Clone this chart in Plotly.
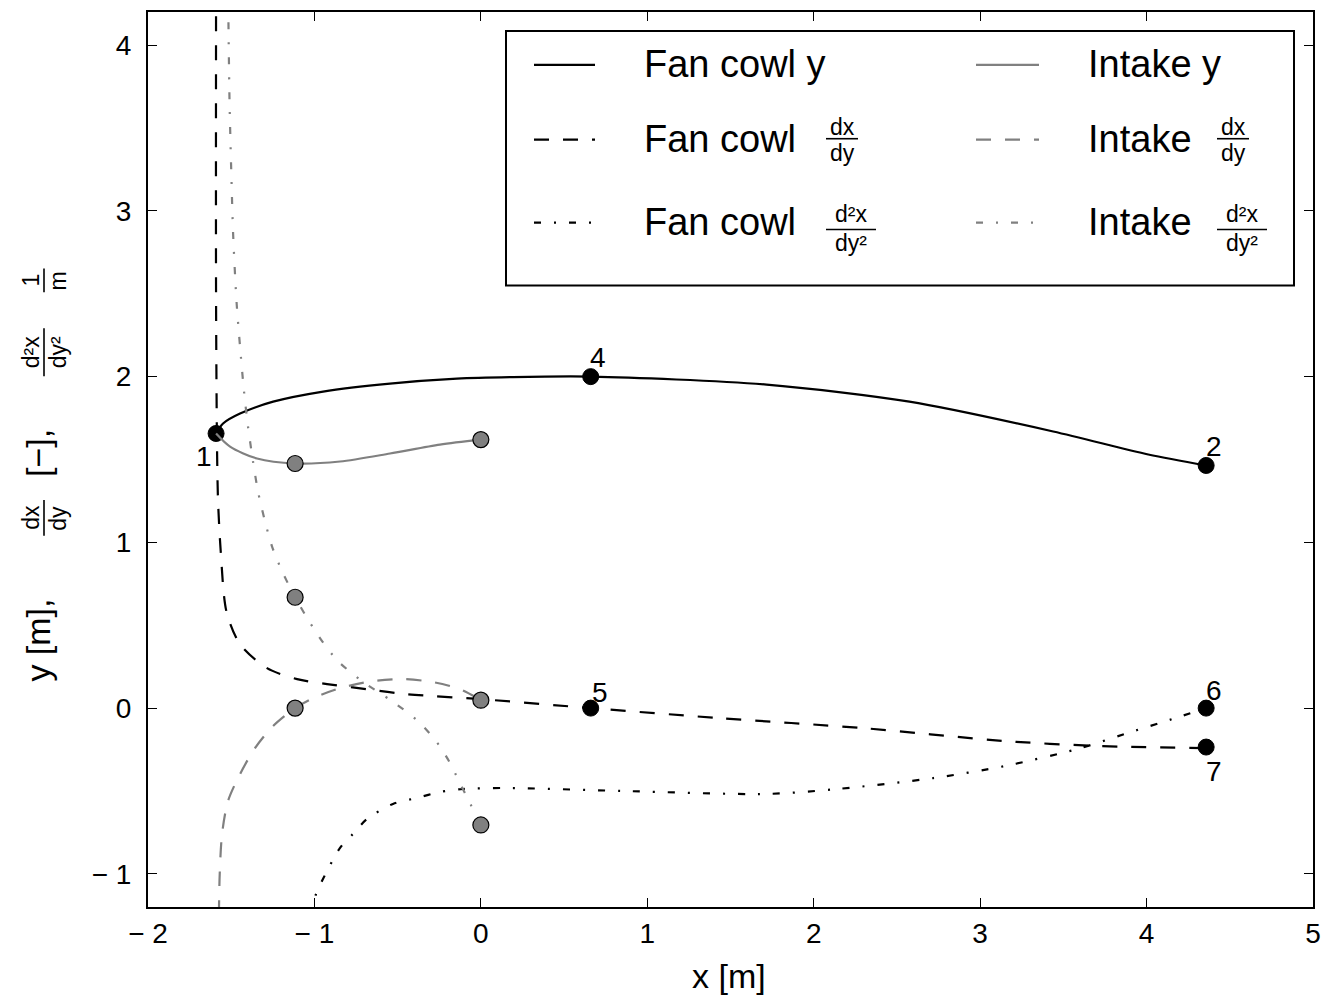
import plotly.graph_objects as go

# ---------------- data ----------------
x_ticks = [-2, -1, 0, 1, 2, 3, 4, 5]
x_tick_text = ["− 2", "− 1", "0", "1", "2", "3", "4", "5"]
y_ticks = [-1, 0, 1, 2, 3, 4]
y_tick_text = ["− 1", "0", "1", "2", "3", "4"]

fan_y_x = [-1.591, -1.549, -1.447, -1.248, -0.948, -0.546, -0.144, 0.174, 0.660, 1.717, 2.575, 3.439, 4.010, 4.358]
fan_y_y = [1.657, 1.717, 1.777, 1.849, 1.910, 1.958, 1.988, 1.997, 2.000, 1.952, 1.849, 1.669, 1.530, 1.464]

fan_dx_x = [-1.591, -1.591, -1.585, -1.579, -1.563, -1.528, -1.447, -1.285, -1.104, -0.924, -0.684, -0.444, 0.0, 0.660, 1.429, 2.287, 3.151, 3.721, 4.358]
fan_dx_y = [4.35, 2.452, 1.548, 1.247, 0.946, 0.580, 0.386, 0.241, 0.175, 0.145, 0.114, 0.084, 0.054, 0.0, -0.060, -0.120, -0.199, -0.229, -0.241]

fan_d2_x = [-1.010, -0.996, -0.954, -0.846, -0.768, -0.684, -0.528, -0.384, -0.246, -0.108, 0.156, 0.852, 1.717, 2.143, 2.719, 3.151, 3.583, 3.866, 4.154, 4.358]
fan_d2_y = [-1.25, -1.139, -1.042, -0.843, -0.759, -0.669, -0.578, -0.542, -0.506, -0.488, -0.482, -0.500, -0.518, -0.488, -0.422, -0.349, -0.247, -0.157, -0.066, 0.0]

int_y_x = [-1.591, -1.507, -1.345, -1.116, -0.846, -0.546, -0.246, 0.0]
int_y_y = [1.657, 1.578, 1.506, 1.476, 1.488, 1.536, 1.590, 1.620]

int_dx_x = [-1.574, -1.569, -1.555, -1.519, -1.447, -1.357, -1.248, -1.116, -1.008, -0.846, -0.648, -0.468, -0.288, -0.126, 0.0]
int_dx_y = [-1.25, -1.0, -0.759, -0.560, -0.398, -0.241, -0.108, 0.0, 0.060, 0.120, 0.163, 0.175, 0.157, 0.114, 0.048]

int_d2_x = [-1.519, -1.510, -1.498, -1.489, -1.468, -1.447, -1.423, -1.399, -1.369, -1.339, -1.297, -1.255, -1.194,
            -1.116, -1.032, -0.954, -0.858, -0.714, -0.534, -0.378, -0.270, -0.192, -0.132, -0.072, 0.0]
int_d2_y = [4.35, 3.657, 3.175, 2.873, 2.452, 2.181, 1.910, 1.699, 1.488, 1.307, 1.127, 0.976, 0.825,
            0.669, 0.524, 0.404, 0.283, 0.163, 0.042, -0.078, -0.199, -0.319, -0.440, -0.560, -0.705]

fan_pts_x = [-1.591, 0.660, 4.358, 0.660, 4.358, 4.358]
fan_pts_y = [1.657, 2.000, 1.464, 0.0, 0.0, -0.235]
fan_pts_lab = ["1", "4", "2", "5", "6", "7"]

int_pts_x = [-1.116, 0.0, -1.116, -1.116, 0.0, 0.0]
int_pts_y = [1.476, 1.620, 0.669, 0.0, 0.048, -0.705]

legend_rows = [("Fan cowl", "y", None), ("Fan cowl", "dx", "dy"), ("Fan cowl", "d²x", "dy²")]
legend_rows2 = [("Intake", "y", None), ("Intake", "dx", "dy"), ("Intake", "d²x", "dy²")]

# ---------------- styling ----------------
PAGE_W, PAGE_H = 1331, 1000
OFF = 8                      # default page margin around the figure div
W, H = PAGE_W - OFF, PAGE_H - OFF
# plot area in page pixels
L, R, T, B = 148, 1313, 10, 907
FONT = "Liberation Sans, Arial, Helvetica, sans-serif"
BLACK = "#000000"
GRAY = "#808080"
LW = 2.2
DASH = "15px,14px"
DASHDOT = "7px,13px,2px,13px"


def px(x):
    return (x - L) / (R - L)


def py(y):
    return (B - y) / (B - T)


fig = go.Figure()


def line(xs, ys, color, dash):
    fig.add_trace(go.Scatter(x=xs, y=ys, mode="lines",
                             line=dict(color=color, width=LW, dash=dash, shape="spline", smoothing=0.8),
                             showlegend=False, hoverinfo="skip"))


line(fan_y_x, fan_y_y, BLACK, "solid")
line(fan_dx_x, fan_dx_y, BLACK, DASH)
line(fan_d2_x, fan_d2_y, BLACK, DASHDOT)
fig.add_trace(go.Scatter(x=fan_pts_x, y=fan_pts_y, mode="markers",
                         marker=dict(size=16, color=BLACK, line=dict(color=BLACK, width=1)),
                         showlegend=False, hoverinfo="skip"))
line(int_y_x, int_y_y, GRAY, "solid")
line(int_dx_x, int_dx_y, GRAY, DASH)
line(int_d2_x, int_d2_y, GRAY, DASHDOT)
fig.add_trace(go.Scatter(x=int_pts_x, y=int_pts_y, mode="markers",
                         marker=dict(size=16, color=GRAY, line=dict(color=BLACK, width=1.2)),
                         showlegend=False, hoverinfo="skip"))

annotations = []
shapes = []

# point labels
label_shift = {"1": (-12, -23), "4": (7, 19), "2": (8, 19), "5": (9, 16), "6": (8, 18), "7": (8, -24)}
for xv, yv, lab in zip(fan_pts_x, fan_pts_y, fan_pts_lab):
    dx, dy = label_shift[lab]
    annotations.append(dict(x=xv, y=yv, xref="x", yref="y", text=lab, showarrow=False,
                            xshift=dx, yshift=dy, font=dict(family=FONT, size=28, color=BLACK)))


def text(x, y, s, size, xanchor="center", angle=0):
    annotations.append(dict(x=px(x), y=py(y), xref="paper", yref="paper", text=s, showarrow=False,
                            xanchor=xanchor, yanchor="middle", textangle=angle,
                            font=dict(family=FONT, size=size, color=BLACK)))


def hbar(x0, x1, y, w=1.6):
    shapes.append(dict(type="line", xref="paper", yref="paper", x0=px(x0), x1=px(x1), y0=py(y), y1=py(y),
                       line=dict(color=BLACK, width=w)))


def vbar(x, y0, y1, w=1.6):
    shapes.append(dict(type="line", xref="paper", yref="paper", x0=px(x), x1=px(x), y0=py(y0), y1=py(y1),
                       line=dict(color=BLACK, width=w)))


# legend box
shapes.append(dict(type="rect", xref="paper", yref="paper", x0=px(506), x1=px(1294), y0=py(284), y1=py(29),
                   line=dict(color=BLACK, width=2), fillcolor="white", layer="above"))

row_y = [63, 138, 221]
dashes = ["solid", DASH, DASHDOT]
cols = [(534, 595, 642, BLACK, legend_rows), (976, 1039, 1086, GRAY, legend_rows2)]
for (lx0, lx1, tx, color, rows) in cols:
    for ry, dsh, (name, num, den) in zip(row_y, dashes, rows):
        shapes.append(dict(type="line", xref="paper", yref="paper", x0=px(lx0), x1=px(lx1), y0=py(ry), y1=py(ry),
                           line=dict(color=color, width=LW, dash=dsh), layer="above"))
        if den is None:
            text(tx, ry - 1, name + " " + num, 38, xanchor="left")
        else:
            text(tx, ry - 1, name, 38, xanchor="left")
            fx0 = tx + (184 if name == "Fan cowl" else 131)
            wbar = 32 if num == "dx" else 50
            cx = fx0 + wbar / 2
            by = ry - 1 if num == "dx" else ry + 7
            hbar(fx0, fx0 + wbar, by)
            text(cx, by - (12 if num == "dx" else 16), num, 23)
            text(cx, by + 14, den, 23)

# axis titles
text(729, 976, "x [m]", 34)
text(38, 639, "y [m],", 34, angle=-90)
text(38, 452, "[−],", 34, angle=-90)
# rotated fractions (numerator on the left)
for cy, num, den, half in [(517, "dx", "dy", 18), (351, "d²x", "dy²", 24), (279, "1", "m", 12)]:
    vbar(44, cy - half, cy + half)
    text(31, cy, num, 23, angle=-90)
    text(58, cy, den, 23, angle=-90)

axis_common = dict(showline=True, linewidth=2, linecolor=BLACK, mirror="ticks", ticks="inside", ticklen=9,
                   tickwidth=1.2, tickcolor=BLACK, showgrid=False, zeroline=False,
                   tickfont=dict(family=FONT, size=28, color=BLACK))

fig.update_layout(
    width=W, height=H, autosize=False,
    margin=dict(l=L - OFF, r=PAGE_W - R, t=T - OFF, b=PAGE_H - B, pad=0),
    paper_bgcolor="white", plot_bgcolor="white",
    xaxis=dict(range=[-2, 5], tickvals=x_ticks, ticktext=x_tick_text, ticklabelstandoff=0, **axis_common),
    yaxis=dict(range=[-1.2, 4.2], tickvals=y_ticks, ticktext=y_tick_text, ticklabelstandoff=9, **axis_common),
    annotations=annotations, shapes=shapes,
)

fig.write_html("out.html")
